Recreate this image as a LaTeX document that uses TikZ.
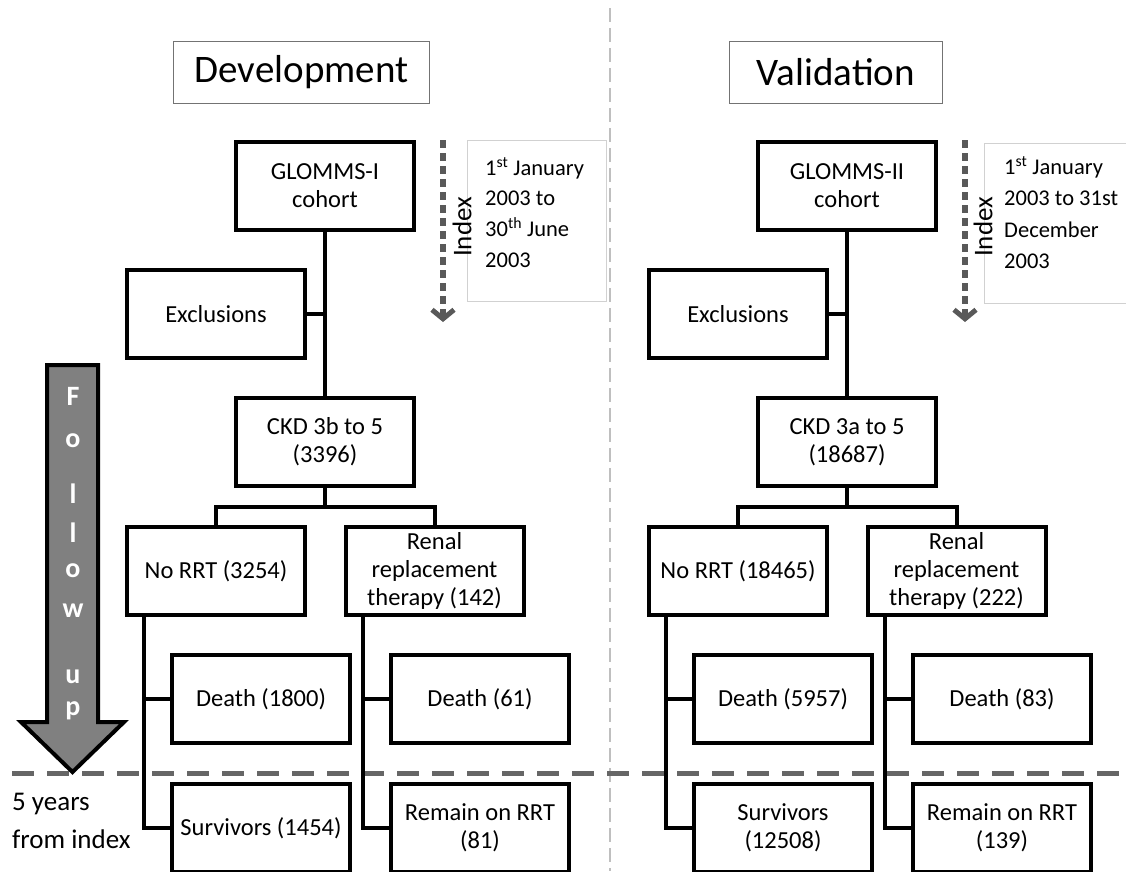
\documentclass[tikz,border=0pt]{standalone}
\usepackage{fontspec}
\setmainfont{Carlito}
\usetikzlibrary{arrows.meta}
\begin{document}
\begin{tikzpicture}[x=1pt,y=-1pt,
  flowbox/.style={draw=black, fill=white, line width=4pt, minimum width=178pt, minimum height=88pt, inner sep=1pt, align=center, font=\fontsize{24.5}{28}\selectfont},
  wire/.style={line width=4pt},
  titlebox/.style={draw=black!55, line width=1.3pt, minimum height=62pt, inner sep=0pt, font=\fontsize{39}{44}\selectfont},
  datebox/.style={draw=black!18, line width=1pt, inner sep=0pt},
  datetext/.style={anchor=base west, inner sep=0pt, font=\fontsize{22.5}{30}\selectfont},
  indextext/.style={rotate=90, inner sep=0pt, font=\fontsize{27}{30}\selectfont},
  indexarrow/.style={draw=black!65, line width=6pt, dash pattern=on 8pt off 5pt, -{Straight Barb[length=9pt,width=22pt,line width=5pt]}},
  plaintext/.style={anchor=base west, inner sep=0pt, font=\fontsize{27}{30}\selectfont},
  letter/.style={anchor=base, inner sep=0pt, text=white, font=\bfseries\fontsize{28}{30}\selectfont}
]
\useasboundingbox (0,0) rectangle (1126,871);
\clip (0,0) rectangle (1126,871);

% guide lines
\draw[draw=black!25, line width=2pt, dash pattern=on 14pt off 6pt] (610,8) -- (610,871);
\draw[draw=black!60, line width=5pt, dash pattern=on 22pt off 13pt] (12,773) -- (1126,773);

% titles
\node[titlebox, minimum width=256pt] (devt) at (301.5,72.5) {Development};
\node[titlebox, minimum width=213pt] (valt) at (836,72.5) {Validation};

% date boxes
\node[datebox, minimum width=139pt, minimum height=161pt] (db1) at (537,221) {};
\node[datebox, minimum width=151pt, minimum height=160pt] (db2) at (1059.5,223.5) {};
\node[datetext] (dt1a) at (485,175) {1\textsuperscript{st} January};
\node[datetext] (dt1b) at (485,205.5) {2003 to};
\node[datetext] (dt1c) at (485,236) {30\textsuperscript{th} June};
\node[datetext] (dt1d) at (485,267) {2003};
\node[datetext] (dt2a) at (1004,174) {1\textsuperscript{st} January};
\node[datetext] (dt2b) at (1004,205.5) {2003 to 31st};
\node[datetext] (dt2c) at (1004,237) {December};
\node[datetext] (dt2d) at (1004,268) {2003};

% index arrows
\coordinate (ia1) at (443,140);
\coordinate (ib1) at (443,322);
\coordinate (ia2) at (965,140);
\coordinate (ib2) at (965,322);
\draw[indexarrow] (ia1) -- (ib1);
\draw[indexarrow] (ia2) -- (ib2);
\node[indextext] (ix1) at (462,227) {Index};
\node[indextext] (ix2) at (983,227) {Index};

% follow up arrow
\draw[line width=4pt, fill=black!50, line join=miter] (47,365) -- (98,365) -- (98,722) -- (124,722) -- (72.5,772) -- (21,722) -- (47,722) -- cycle;
\foreach \ch/\yy [count=\i] in {F/405, o/447, l/503, l/542, o/577, w/617, u/683, p/715}
  \node[letter] (fl\i) at (73,\yy) {\ch};

\node[plaintext] (fy1) at (12,810) {5 years};
\node[plaintext] (fy2) at (12,848) {from index};

% development boxes
\node[flowbox] (g1) at (325,186) {GLOMMS-I\\cohort};
\node[flowbox] (e1) at (216,314) {Exclusions};
\node[flowbox] (c1) at (325,442) {CKD 3b to 5\\(3396)};
\node[flowbox] (n1) at (216,571) {No RRT (3254)};
\node[flowbox] (r1) at (434.5,571) {Renal\\replacement\\therapy (142)};
\node[flowbox] (d1) at (261,699) {Death (1800)};
\node[flowbox] (d2) at (480,699) {Death (61)};
\node[flowbox] (s1) at (261,828) {Survivors (1454)};
\node[flowbox] (s2) at (480,828) {Remain on RRT\\(81)};

% validation boxes
\node[flowbox] (g2) at (847,186) {GLOMMS-II\\cohort};
\node[flowbox] (e2) at (738,314) {Exclusions};
\node[flowbox] (c2) at (847,442) {CKD 3a to 5\\(18687)};
\node[flowbox] (n2) at (738,571) {No RRT (18465)};
\node[flowbox] (r2) at (956.5,571) {Renal\\replacement\\therapy (222)};
\node[flowbox] (d3) at (783,699) {Death (5957)};
\node[flowbox] (d4) at (1002,699) {Death (83)};
\node[flowbox] (s3) at (783,828) {Survivors\\(12508)};
\node[flowbox] (s4) at (1002,828) {Remain on RRT\\(139)};

% development connectors
\draw[wire] (g1.south) -- (c1.north);
\draw[wire] (e1.east) -- (e1.east -| g1.south);
\path (c1.south) ++(0,19) coordinate (b1);
\draw[wire] (c1.south) -- (b1);
\draw[wire] (n1.north) -- (n1.north |- b1) -- (r1.north |- b1) -- (r1.north);
\path (n1.south) ++(-72,0) coordinate (t1);
\draw[wire] (t1) |- (s1.west);
\draw[wire] (d1.west) -- (d1.west -| t1);
\path (r1.south) ++(-71.5,0) coordinate (t2);
\draw[wire] (t2) |- (s2.west);
\draw[wire] (d2.west) -- (d2.west -| t2);

% validation connectors
\draw[wire] (g2.south) -- (c2.north);
\draw[wire] (e2.east) -- (e2.east -| g2.south);
\path (c2.south) ++(0,19) coordinate (b2);
\draw[wire] (c2.south) -- (b2);
\draw[wire] (n2.north) -- (n2.north |- b2) -- (r2.north |- b2) -- (r2.north);
\path (n2.south) ++(-72,0) coordinate (t3);
\draw[wire] (t3) |- (s3.west);
\draw[wire] (d3.west) -- (d3.west -| t3);
\path (r2.south) ++(-71.5,0) coordinate (t4);
\draw[wire] (t4) |- (s4.west);
\draw[wire] (d4.west) -- (d4.west -| t4);
\end{tikzpicture}
\end{document}
